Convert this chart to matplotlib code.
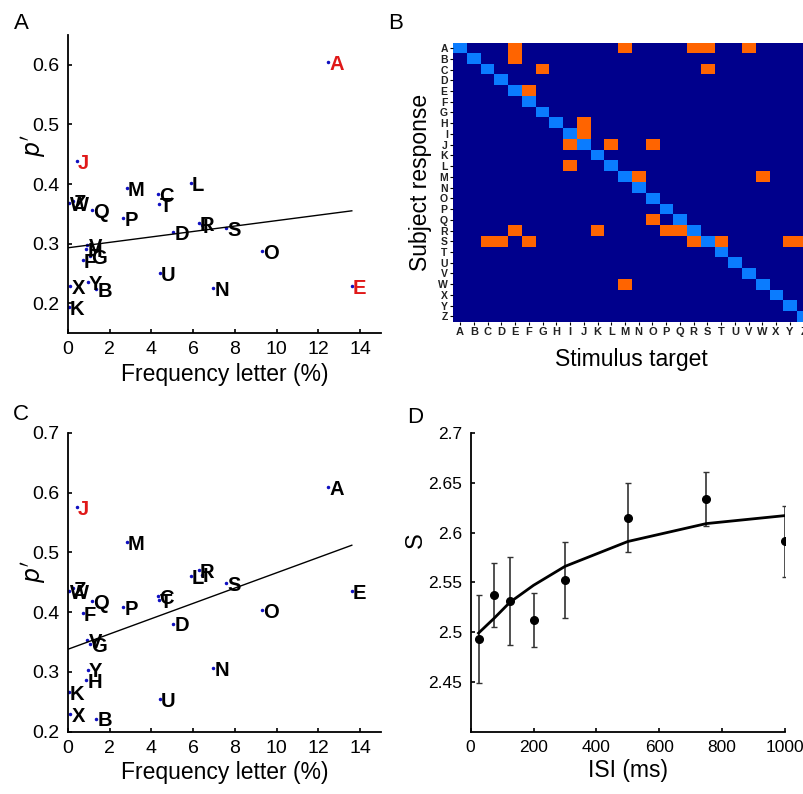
import numpy as np
import matplotlib
matplotlib.use('Agg')
import matplotlib.pyplot as plt
from matplotlib.colors import ListedColormap

plt.rcParams['font.family'] = ['Liberation Sans', 'DejaVu Sans']

letters = list('ABCDEFGHIJKLMNOPQRSTUVWXYZ')

# letter frequency (%) in the language
freq = {'A': 12.48, 'B': 1.36, 'C': 4.32, 'D': 5.04, 'E': 13.6, 'F': 0.72, 'G': 1.07,
        'H': 0.88, 'I': 6.42, 'J': 0.43, 'K': 0.04, 'L': 5.87, 'M': 2.83, 'N': 6.96,
        'O': 9.28, 'P': 2.64, 'Q': 1.17, 'R': 6.27, 'S': 7.57, 'T': 4.36, 'U': 4.4,
        'V': 0.93, 'W': 0.05, 'X': 0.11, 'Y': 0.96, 'Z': 0.22}

# p' per letter, panel A
p_a = {'A': 0.604, 'B': 0.224, 'C': 0.383, 'D': 0.320, 'E': 0.229, 'F': 0.273, 'G': 0.279,
       'H': 0.291, 'I': 0.331, 'J': 0.438, 'K': 0.194, 'L': 0.401, 'M': 0.393, 'N': 0.225,
       'O': 0.287, 'P': 0.343, 'Q': 0.357, 'R': 0.334, 'S': 0.326, 'T': 0.367, 'U': 0.251,
       'V': 0.298, 'W': 0.368, 'X': 0.229, 'Y': 0.235, 'Z': 0.372}
red_a = ['A', 'J', 'E']
fit_a = (0.293, 0.00456)   # intercept, slope

# p' per letter, panel C
p_c = {'A': 0.609, 'B': 0.222, 'C': 0.427, 'D': 0.381, 'E': 0.436, 'F': 0.399, 'G': 0.346,
       'H': 0.287, 'I': 0.463, 'J': 0.576, 'K': 0.267, 'L': 0.460, 'M': 0.517, 'N': 0.306,
       'O': 0.403, 'P': 0.408, 'Q': 0.418, 'R': 0.470, 'S': 0.449, 'T': 0.421, 'U': 0.254,
       'V': 0.354, 'W': 0.435, 'X': 0.230, 'Y': 0.304, 'Z': 0.440}
red_c = ['J']
fit_c = (0.338, 0.0128)

# confusion matrix: (subject response, stimulus target) pairs off the diagonal
confusions = [('A', 'E'), ('A', 'M'), ('A', 'R'), ('A', 'S'), ('A', 'V'),
              ('B', 'E'), ('C', 'G'), ('C', 'S'), ('E', 'F'),
              ('H', 'J'), ('I', 'J'), ('J', 'I'), ('J', 'L'), ('J', 'O'),
              ('L', 'I'), ('M', 'N'), ('M', 'W'), ('Q', 'O'),
              ('R', 'E'), ('R', 'K'), ('R', 'P'), ('R', 'Q'),
              ('S', 'C'), ('S', 'D'), ('S', 'F'), ('S', 'R'), ('S', 'T'), ('S', 'Y'), ('S', 'Z'),
              ('W', 'M')]

# panel D
isi = [25, 75, 125, 200, 300, 500, 750, 1000]
s_val = [2.493, 2.537, 2.531, 2.512, 2.552, 2.615, 2.634, 2.591]
s_err = [0.044, 0.032, 0.044, 0.027, 0.038, 0.035, 0.027, 0.036]
s_fit = [2.499, 2.514, 2.530, 2.547, 2.566, 2.591, 2.609, 2.617]

fig = plt.figure(figsize=(8.04, 7.94), dpi=100)

def style_ax(ax):
    ax.spines['top'].set_visible(False)
    ax.spines['right'].set_visible(False)
    ax.spines['left'].set_linewidth(1.3)
    ax.spines['bottom'].set_linewidth(1.3)
    ax.tick_params(direction='in', length=3, width=1.2, labelsize=14, pad=6)

def scatter_panel(ax, pvals, reds, fit, ylim, yticks):
    for l in letters:
        x, y = freq[l], pvals[l]
        ax.plot(x, y, '.', color='#1010c0', ms=3)
        c = '#e01818' if l in reds else 'black'
        ax.text(x + 0.05, y - 0.004, l, color=c, fontsize=14.5, fontweight='bold',
                ha='left', va='center')
    xs = np.array([0, max(freq.values())])
    ax.plot(xs, fit[0] + fit[1] * xs, color='black', lw=1.0)
    ax.set_xlim(0, 15)
    ax.set_ylim(*ylim)
    ax.set_xticks(range(0, 15, 2))
    ax.set_yticks(yticks)
    ax.set_yticklabels([f'{t:g}' for t in yticks])
    style_ax(ax)
    ax.set_xlabel('Frequency letter (%)', fontsize=16.5, labelpad=3)

# A
axA = fig.add_axes([0.0846, 0.5806, 0.3893, 0.3753])
scatter_panel(axA, p_a, red_a, fit_a, (0.15, 0.65), [0.2, 0.3, 0.4, 0.5, 0.6])
axA.set_ylabel("$p'$", fontsize=17)
axA.yaxis.set_label_coords(-0.065, 0.63)

# C
axC = fig.add_axes([0.0846, 0.0785, 0.3893, 0.3762])
scatter_panel(axC, p_c, red_c, fit_c, (0.2, 0.7), [0.2, 0.3, 0.4, 0.5, 0.6, 0.7])
axC.set_ylabel("$p'$", fontsize=17)
axC.yaxis.set_label_coords(-0.065, 0.535)

# B
mat = np.zeros((26, 26))
for r, t in confusions:
    mat[letters.index(r), letters.index(t)] = 1
for i in range(26):
    mat[i, i] = 2
cmap = ListedColormap(['#00008c', '#ff6400', '#0a7cff'])
axB = fig.add_axes([0.5638, 0.5948, 0.4442, 0.3514])
axB.imshow(mat, cmap=cmap, vmin=0, vmax=2, aspect='auto', interpolation='nearest')
axB.set_xticks(range(26))
axB.set_xticklabels(letters, fontsize=8, fontweight='bold', color='#222222')
axB.set_yticks(range(26))
axB.set_yticklabels(letters, fontsize=7.5, fontweight='bold', color='#222222')
axB.tick_params(length=2, width=0.8, pad=2)
for s in axB.spines.values():
    s.set_visible(False)
axB.set_ylabel('Subject response', fontsize=16.5, labelpad=4)
axB.set_xlabel('Stimulus target', fontsize=16.5, labelpad=8)

# D
axD = fig.add_axes([0.5854, 0.0785, 0.3909, 0.3762])
axD.errorbar(isi, s_val, yerr=s_err, fmt='o', color='black', ms=5.5,
             ecolor='#333333', elinewidth=1.2, capsize=2)
axD.plot(isi, s_fit, color='black', lw=2)
axD.set_xlim(0, 1000)
axD.set_ylim(2.4, 2.7)
axD.set_xticks(range(0, 1001, 200))
dticks = [2.45, 2.5, 2.55, 2.6, 2.65, 2.7]
axD.set_yticks(dticks)
axD.set_yticklabels([f'{t:g}' for t in dticks])
style_ax(axD)
axD.tick_params(labelsize=12.5)
axD.set_xlabel('ISI (ms)', fontsize=16.5, labelpad=3)
axD.set_ylabel('S', fontsize=17)
axD.yaxis.set_label_coords(-0.14, 0.64)

# panel letters
for lab, x, y in [('A', 14, 29), ('B', 388, 29), ('C', 13, 420), ('D', 407, 423)]:
    fig.text(x / 804, 1 - y / 794, lab, fontsize=16, ha='left', va='baseline')

fig.savefig('out.png', dpi=100)
